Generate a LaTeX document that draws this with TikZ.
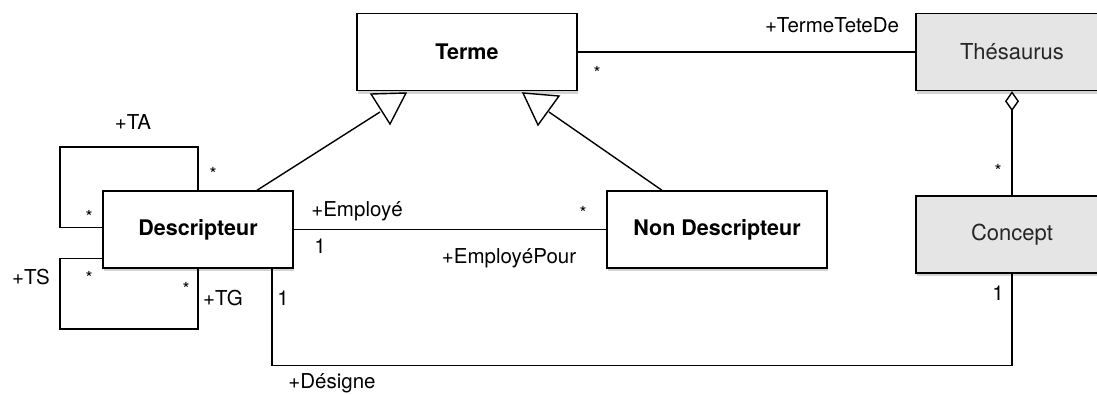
\documentclass[tikz,border=0pt]{standalone}
\usepackage{fontspec}
\setmainfont{TeX Gyre Heros}
\usetikzlibrary{arrows.meta,shadows}

\tikzset{
  cls/.style={draw, fill=white, inner sep=0pt, minimum height=77pt,
    font=\fontsize{21.5}{24}\selectfont\bfseries,
    drop shadow={shadow xshift=1pt, shadow yshift=-3pt, opacity=0.35}},
  gcls/.style={cls, fill=black!10, text=black!85, font=\fontsize{22}{24}\selectfont},
  lbl/.style={inner sep=0pt, text height=0.72em, text depth=0pt, font=\fontsize{20.5}{23}\selectfont},
  mult/.style={inner sep=0pt, font=\fontsize{18}{20}\selectfont},
  gen/.style={draw, fill=white, line join=miter},
}

\begin{document}
\begin{tikzpicture}[x=1pt, y=-1pt, line width=1.4pt]
        \useasboundingbox (0,0) rectangle (1097,394);
        % classes
        \node[cls, minimum width=220pt] (terme) at (467,52) {Terme};
        \node[gcls, minimum width=192pt] (thes) at (1012,52) {Thésaurus};
        \node[cls, minimum width=190pt] (desc) at (198,229.5) {Descripteur};
        \node[cls, minimum width=220pt] (nondesc) at (717,229.5) {Non Descripteur};
        \node[gcls, minimum width=192pt] (concept) at (1012,234.5) {Concept};
        % associations
        \draw (terme.east) -- (thes.west);
        \draw[-{Diamond[open, length=20pt, width=14pt]}] (concept.north) -- (thes.south);
        \draw (desc.east) -- (nondesc.west);
        \draw ([xshift=74pt]desc.south) -- ++(0,97) -| (concept.south);
        \draw ([yshift=2pt]desc.west) -| (60,147) -| (desc.north);
        \draw ([yshift=-29pt]desc.west) -| (60,329) -| (desc.south);
        % generalisation
        \coordinate (gd) at (380,112);
        \coordinate (gn) at (549,112);
        \draw ([xshift=59pt]desc.north) -- (gd);
        \draw ([xshift=-55pt]nondesc.north) -- (gn);
        \draw[gen] (371,94) -- (406,93) -- (390,124) -- cycle;
        \draw[gen] (523,93) -- (559,96) -- (538,125) -- cycle;
        % roles and multiplicities
        \node[lbl] (tete) at (832,29) {+TermeTeteDe};
        \node[mult] (mterme) at (597,73) {*};
        \node[mult] (mconcept) at (998,171) {*};
        \node[lbl] (uconcept) at (998,297) {1};
        \node[lbl] (employe) at (357,213) {+Employé};
        \node[mult] (mnon) at (583,213) {*};
        \node[lbl] (uemploye) at (320,250) {1};
        \node[lbl] (pour) at (509,260) {+EmployéPour};
        \node[lbl] (designe) at (332,385) {+Désigne};
        \node[lbl] (udesigne) at (283,302) {1};
        \node[lbl] (ta) at (133,126) {+TA};
        \node[mult] (mta) at (213,174) {*};
        \node[mult] (mta2) at (89,217) {*};
        \node[lbl] (ts) at (31,281) {+TS};
        \node[mult] (mts) at (89,278) {*};
        \node[mult] (mtg) at (186,289) {*};
        \node[lbl] (tg) at (223,302) {+TG};
      \end{tikzpicture}
\end{document}
